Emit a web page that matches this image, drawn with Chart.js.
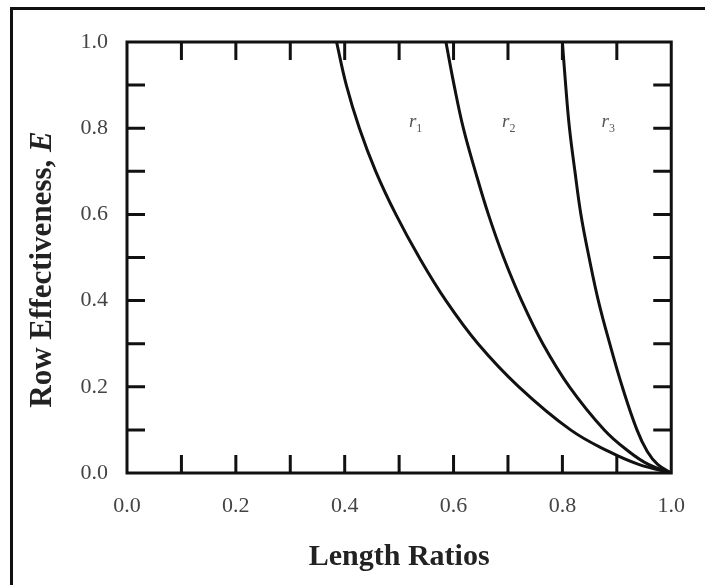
<!DOCTYPE html>
<html>
<head>
<meta charset="utf-8">
<script src="https://cdn.jsdelivr.net/npm/chart.js@4/dist/chart.umd.min.js"></script>
<style>
  html, body { margin: 0; padding: 0; background: #fff; overflow: hidden; }
  #wrap { position: relative; width: 705px; height: 585px; }
  #frame { position: absolute; left: 10px; top: 7px; width: 720px; height: 600px;
           border-left: 3px solid #111; border-top: 3px solid #111; box-sizing: border-box; }
  canvas { position: absolute; left: 0; top: 0; }
</style>
</head>
<body>
<div id="wrap">
  <div id="frame"></div>
  <canvas id="chart" width="705" height="585"></canvas>
</div>
<script>
// values
const r1Ratio = [0.385, 0.403, 0.427, 0.457, 0.494, 0.537, 0.586, 0.645, 0.720, 0.815, 0.885, 0.940, 1.0];
const r1Eff   = [1.00, 0.90, 0.80, 0.70, 0.60, 0.50, 0.40, 0.30, 0.20, 0.10, 0.05, 0.02, 0.0];
const r2Ratio = [0.586, 0.601, 0.618, 0.640, 0.664, 0.692, 0.725, 0.764, 0.813, 0.877, 0.922, 0.958, 1.0];
const r2Eff   = [1.00, 0.90, 0.80, 0.70, 0.60, 0.50, 0.40, 0.30, 0.20, 0.10, 0.05, 0.02, 0.0];
const r3Ratio = [0.800, 0.806, 0.813, 0.823, 0.834, 0.849, 0.866, 0.887, 0.910, 0.937, 0.956, 0.975, 1.0];
const r3Eff   = [1.00, 0.90, 0.80, 0.70, 0.60, 0.50, 0.40, 0.30, 0.20, 0.10, 0.05, 0.02, 0.0];

const curveNames = ["1", "2", "3"];
const labelRatio = [0.518, 0.689, 0.872];
const labelEff = [0.803, 0.803, 0.803];

const xTitle = "Length Ratios";
const yTitle = "Row Effectiveness, ";
const yTitleVar = "E";

const serif = "'Liberation Serif', 'Times New Roman', serif";

function toPoints(xs, ys) {
  return xs.map((x, i) => ({ x: x, y: ys[i] }));
}

function curve(xs, ys) {
  return {
    data: toPoints(xs, ys),
    borderColor: "#111",
    borderWidth: 3,
    pointRadius: 0,
    fill: false,
    tension: 0.4,
  };
}

const framePlugin = {
  id: "frame",
  afterDatasetsDraw(chart) {
    const { ctx, chartArea: a, scales } = chart;
    const tick = 18;
    ctx.save();
    ctx.strokeStyle = "#111";
    ctx.lineWidth = 3;
    ctx.strokeRect(a.left, a.top, a.right - a.left, a.bottom - a.top);
    ctx.beginPath();
    scales.x.ticks.forEach((t) => {
      const px = scales.x.getPixelForValue(t.value);
      if (px <= a.left + 2 || px >= a.right - 2) return;
      ctx.moveTo(px, a.bottom); ctx.lineTo(px, a.bottom - tick);
      ctx.moveTo(px, a.top); ctx.lineTo(px, a.top + tick);
    });
    scales.y.ticks.forEach((t) => {
      const py = scales.y.getPixelForValue(t.value);
      if (py <= a.top + 2 || py >= a.bottom - 2) return;
      ctx.moveTo(a.left, py); ctx.lineTo(a.left + tick, py);
      ctx.moveTo(a.right, py); ctx.lineTo(a.right - tick, py);
    });
    ctx.stroke();

    // curve labels r1, r2, r3
    ctx.fillStyle = "#555";
    ctx.textBaseline = "alphabetic";
    curveNames.forEach((n, i) => {
      const px = scales.x.getPixelForValue(labelRatio[i]);
      const py = scales.y.getPixelForValue(labelEff[i]);
      ctx.font = "italic 19px " + serif;
      ctx.fillText("r", px, py);
      const w = ctx.measureText("r").width;
      ctx.font = "12px " + serif;
      ctx.fillText(n, px + w, py + 5);
    });

    // y title with italic E
    ctx.fillStyle = "#222";
    ctx.translate(43, (a.top + a.bottom) / 2 + 12);
    ctx.rotate(-Math.PI / 2);
    ctx.textBaseline = "middle";
    ctx.font = "bold 31px " + serif;
    const w1 = ctx.measureText(yTitle).width;
    ctx.font = "bold italic 31px " + serif;
    const w2 = ctx.measureText(yTitleVar).width;
    const start = -(w1 + w2) / 2;
    ctx.font = "bold 31px " + serif;
    ctx.fillText(yTitle, start, 0);
    ctx.font = "bold italic 31px " + serif;
    ctx.fillText(yTitleVar, start + w1, 0);
    ctx.restore();
  },
};

function evenLabel(v) {
  return Math.round(v * 10) % 2 === 0 ? v.toFixed(1) : "";
}

new Chart(document.getElementById("chart"), {
  type: "line",
  data: {
    datasets: [curve(r1Ratio, r1Eff), curve(r2Ratio, r2Eff), curve(r3Ratio, r3Eff)],
  },
  options: {
    responsive: false,
    animation: false,
    events: [],
    layout: { padding: { top: 42, right: 32, left: 0, bottom: 0 } },
    plugins: { legend: { display: false }, tooltip: { enabled: false } },
    scales: {
      x: {
        type: "linear",
        min: 0,
        max: 1,
        grid: { display: false, drawTicks: false },
        border: { display: false },
        ticks: {
          stepSize: 0.1,
          autoSkip: false,
          maxRotation: 0,
          padding: 20,
          color: "#444",
          font: { family: serif, size: 22 },
          callback: evenLabel,
        },
        title: {
          display: true,
          text: xTitle,
          color: "#222",
          font: { family: serif, size: 30, weight: "bold" },
          padding: { top: 0, bottom: 10 },
        },
        afterFit: (s) => { s.height = 112; },
      },
      y: {
        type: "linear",
        min: 0,
        max: 1,
        grid: { display: false, drawTicks: false },
        border: { display: false },
        ticks: {
          stepSize: 0.1,
          autoSkip: false,
          padding: 19,
          color: "#444",
          font: { family: serif, size: 22 },
          callback: evenLabel,
        },
        afterFit: (s) => { s.width = 127; },
      },
    },
  },
  plugins: [framePlugin],
});
</script>
</body>
</html>
